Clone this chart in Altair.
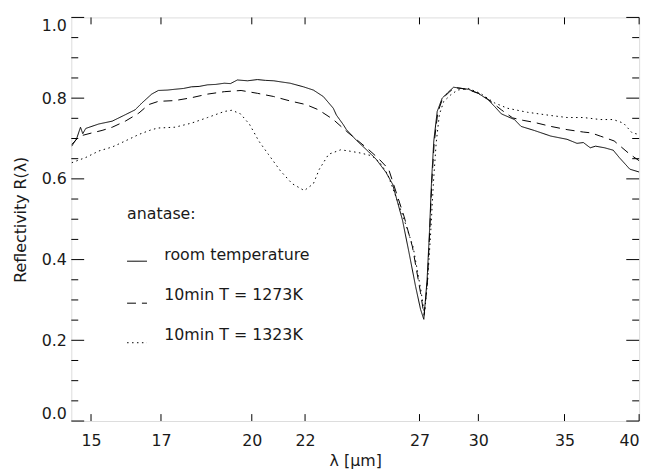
import altair as alt
import pandas as pd

# ---------------- data ----------------
series_names = ["room temperature", "10min T = 1273K", "10min T = 1323K"]

wl_room = [14.49, 14.62, 14.72, 14.78, 14.86, 15.21, 15.58, 15.95, 16.23, 16.43, 16.72, 16.92,
           17.20, 17.43, 17.70, 17.95, 18.20, 18.48, 18.75, 19.04, 19.25, 19.49, 19.85, 20.20,
           20.50, 20.80, 21.10, 21.42, 21.94, 22.33, 22.73, 23.14, 23.27, 23.55, 23.69, 24.11,
           24.54, 24.98, 25.43, 25.73, 26.19, 26.50, 26.81, 27.05, 27.21, 27.37, 27.49, 27.59,
           27.70, 27.87, 28.12, 28.45, 28.70, 29.13, 29.47, 29.99, 30.53, 30.89, 31.26, 32.00,
           32.38, 33.15, 34.15, 35.16, 35.79, 36.20, 36.65, 37.00, 37.60, 38.19, 38.60, 39.34, 40.0]
r_room = [0.681, 0.700, 0.728, 0.712, 0.725, 0.736, 0.743, 0.759, 0.771, 0.788, 0.810, 0.819,
          0.820, 0.822, 0.824, 0.828, 0.829, 0.833, 0.834, 0.837, 0.836, 0.845, 0.843, 0.846,
          0.844, 0.843, 0.840, 0.837, 0.828, 0.820, 0.804, 0.775, 0.758, 0.735, 0.722, 0.696,
          0.673, 0.649, 0.616, 0.587, 0.498, 0.417, 0.334, 0.277, 0.252, 0.350, 0.473, 0.596,
          0.694, 0.767, 0.800, 0.816, 0.827, 0.824, 0.822, 0.812, 0.796, 0.779, 0.761, 0.747,
          0.730, 0.720, 0.706, 0.698, 0.688, 0.690, 0.677, 0.681, 0.677, 0.671, 0.653, 0.624, 0.617]

wl_1273 = [14.49, 14.70, 15.03, 15.30, 15.58, 15.95, 16.34, 16.63, 16.92, 17.43, 17.95, 18.48,
           19.04, 19.62, 20.20, 20.80, 21.42, 22.04, 22.54, 23.14, 23.69, 24.11, 24.60, 25.10,
           25.55, 26.27, 26.66, 27.05, 27.22, 27.38, 27.50, 27.60, 27.72, 27.90, 28.15, 28.50,
           28.75, 29.13, 29.50, 30.00, 30.50, 31.26, 31.90, 32.50, 33.15, 34.15, 35.16, 36.20,
           36.70, 37.31, 38.25, 39.34, 40.0]
r_1273 = [0.685, 0.706, 0.714, 0.720, 0.728, 0.743, 0.763, 0.784, 0.792, 0.794, 0.801, 0.810,
          0.816, 0.819, 0.812, 0.804, 0.793, 0.784, 0.771, 0.747, 0.718, 0.698, 0.675, 0.650,
          0.624, 0.506, 0.432, 0.318, 0.262, 0.340, 0.470, 0.590, 0.690, 0.765, 0.800, 0.816,
          0.826, 0.824, 0.820, 0.812, 0.798, 0.771, 0.751, 0.745, 0.740, 0.730, 0.722, 0.716,
          0.714, 0.706, 0.694, 0.661, 0.645]

wl_1323 = [14.49, 14.86, 15.21, 15.58, 15.95, 16.34, 16.72, 16.92, 17.43, 17.95, 18.48, 19.04,
           19.30, 19.60, 19.92, 20.25, 20.60, 21.05, 21.50, 21.97, 22.33, 22.57, 22.95, 23.45,
           23.80, 24.30, 24.80, 25.15, 25.50, 26.20, 26.70, 27.08, 27.24, 27.40, 27.55, 27.68,
           27.82, 27.98, 28.20, 28.55, 28.90, 29.47, 30.10, 30.89, 31.60, 32.75, 34.15, 35.16,
           36.20, 37.31, 38.19, 38.90, 39.50, 40.0]
r_1323 = [0.640, 0.653, 0.669, 0.679, 0.694, 0.710, 0.722, 0.726, 0.728, 0.738, 0.752, 0.767,
          0.770, 0.761, 0.735, 0.694, 0.661, 0.620, 0.588, 0.571, 0.588, 0.624, 0.661, 0.672,
          0.669, 0.664, 0.657, 0.640, 0.612, 0.510, 0.430, 0.320, 0.265, 0.350, 0.470, 0.590,
          0.690, 0.760, 0.792, 0.808, 0.820, 0.824, 0.812, 0.788, 0.775, 0.765, 0.757, 0.752,
          0.752, 0.747, 0.747, 0.738, 0.714, 0.710]

x_ticks = [15, 17, 20, 22, 27, 30, 35, 40]
y_major = [0.0, 0.2, 0.4, 0.6, 0.8, 1.0]
y_minor = [0.05, 0.10, 0.15, 0.25, 0.30, 0.35, 0.45, 0.50, 0.55,
           0.65, 0.70, 0.75, 0.85, 0.90, 0.95]

# in-plot legend (anatase:)
legend_text = ["anatase:", "room temperature", "10min T = 1273K", "10min T = 1323K"]
legend_text_wl = [16.0, 17.1, 17.1, 17.1]
legend_text_r = [0.50, 0.40, 0.30, 0.20]
sample_wl1 = [16.0, 16.0, 16.0]
sample_wl2 = [16.58, 16.58, 16.58]
sample_r = [0.396, 0.292, 0.194]

# ---------------- tables ----------------
rows = []
for name, wl, rr in zip(series_names, [wl_room, wl_1273, wl_1323], [r_room, r_1273, r_1323]):
    for a, b in zip(wl, rr):
        rows.append({"series": name, "wl": a, "R": b})
df = pd.DataFrame(rows)

df_leg = pd.DataFrame({"wl": legend_text_wl, "R": legend_text_r, "text": legend_text})
df_samp = pd.DataFrame({"wl": sample_wl1, "wl2": sample_wl2, "R": sample_r, "series": series_names})

W, H = 574, 408
FONT = "DejaVu Sans"
TXT = "#1a1a1a"
XT = "λ [μm]"
YT = "Reflectivity R(λ)"
xscale = alt.Scale(type="log", domain=[14.48, 40], nice=False)
yscale = alt.Scale(domain=[0, 1], nice=False, zero=False)
dash_scale = alt.Scale(domain=series_names, range=[[1, 0], [9, 6], [1.5, 3.5]])

xaxis = alt.Axis(values=x_ticks, format="d", title=XT, ticks=False, tickSize=0,
                 domain=False, grid=False, labelPadding=12, titlePadding=4,
                 labelFontSize=16, titleFontSize=16, labelFont=FONT, titleFont=FONT,
                 titleFontWeight="normal", labelColor=TXT, titleColor=TXT)
yaxis = alt.Axis(values=y_major, format=".1f", title=YT, ticks=False,
                 tickSize=0, domain=False, grid=False, labelPadding=5, titlePadding=13,
                 labelFlush=True,
                 labelFontSize=16, titleFontSize=16, labelFont=FONT, titleFont=FONT,
                 titleFontWeight="normal", labelColor=TXT, titleColor=TXT)


def X(field):
    return alt.X(field, scale=xscale, axis=xaxis, title=XT)


def Y(field):
    return alt.Y(field, scale=yscale, axis=yaxis, title=YT)


lines = alt.Chart(df).mark_line(color="black", strokeWidth=1, clip=True).encode(
    x=X("wl:Q"),
    y=Y("R:Q"),
    strokeDash=alt.StrokeDash("series:N", scale=dash_scale, legend=None),
    detail="series:N",
)


def yticks(vals, x1, x2):
    return alt.Chart(pd.DataFrame({"v": vals})).mark_rule(color="black", strokeWidth=1).encode(
        y=Y("v:Q"), x=alt.value(x1), x2=alt.value(x2))


def xticks(y1, y2):
    return alt.Chart(pd.DataFrame({"v": x_ticks})).mark_rule(color="black", strokeWidth=1).encode(
        x=X("v:Q"), y=alt.value(y1), y2=alt.value(y2))


ticks = [
    yticks(y_major, 0, 13), yticks(y_minor, 0, 7),
    yticks(y_major, W, W - 13), yticks(y_minor, W, W - 7),
    xticks(H, H - 7), xticks(0, 7),
]

leg_text = alt.Chart(df_leg).mark_text(align="left", baseline="alphabetic", fontSize=16,
                                      font=FONT, color=TXT).encode(
    x=X("wl:Q"),
    y=Y("R:Q"),
    text="text:N",
)

leg_samp = alt.Chart(df_samp).mark_rule(color="black", strokeWidth=1).encode(
    x=X("wl:Q"),
    x2="wl2:Q",
    y=Y("R:Q"),
    strokeDash=alt.StrokeDash("series:N", scale=dash_scale, legend=None),
)

chart = alt.layer(lines, *ticks, leg_text, leg_samp).properties(
    width=W, height=H,
    autosize=alt.AutoSizeParams(type="none"),
    padding={"left": 64, "top": 7, "right": 12, "bottom": 49},
).configure_view(stroke="black", strokeWidth=1).configure(background="white")

chart.save("out.html", embed_options={"renderer": "svg", "actions": False})
